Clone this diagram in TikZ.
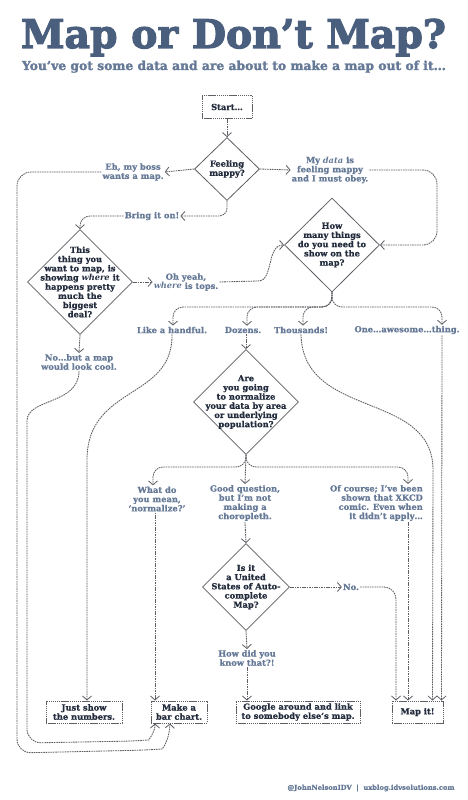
\documentclass[tikz,border=0pt]{standalone}
\usepackage{fontspec}
\setmainfont{DejaVu Serif}[BoldFeatures={FakeBold=0.8}]
\newfontfamily\titlefont{DejaVu Serif}[BoldFeatures={FakeBold=3}]
\newfontfamily\subfont{DejaVu Serif}[BoldFeatures={FakeBold=2}]
\usepackage{graphicx}
\usetikzlibrary{shapes.geometric,arrows.meta}
\definecolor{titleblue}{HTML}{4A5F7E}
\definecolor{ansblue}{HTML}{667A98}
\definecolor{darktext}{HTML}{232C3D}
\definecolor{linegray}{HTML}{5E5E64}
\begin{document}
\begin{tikzpicture}[x=1pt,y=-1pt,
  txt/.style={font=\bfseries\fontsize{8.3}{9.2}\selectfont, align=center, inner sep=1pt},
  ans/.style={txt, text=ansblue},
  qtext/.style={txt, text=darktext},
  dia/.style={diamond, draw=linegray, line width=0.8pt, inner sep=0pt},
  box/.style={draw=linegray, dash pattern=on 1.4pt off 0.7pt, line width=1pt, txt, text=darktext, minimum height=22pt, inner sep=2pt},
  conn/.style={draw=linegray, line width=0.85pt, dash pattern=on 1.6pt off 0.8pt},
  arr/.style={conn, -{Straight Barb[length=4pt,width=9pt,line width=0.8pt]}},
]
\fill[white] (0,0) rectangle (467,800);
\useasboundingbox (0,0) rectangle (467,800);

% titles
\node[anchor=base, text=titleblue, inner sep=0pt] (title) at (233.5,48)
  {\resizebox{425pt}{!}{\titlefont\bfseries Map or Don’t Map?}};
\node[anchor=base, text=ansblue, inner sep=0pt] (subtitle) at (234,70)
  {\resizebox{424pt}{!}{\subfont\bfseries You’ve got some data and are about to make a map out of it…}};

% boxes
\node[box, minimum width=50pt, minimum height=23pt] (start) at (227,107) {Start…};
\node[box, minimum width=76pt] (just) at (84,712) {Just show\\the numbers.};
\node[box, minimum width=56pt] (bar) at (179,712) {Make a\\bar chart.};
\node[box, minimum width=124pt] (google) at (298,712) {Google around and link\\to somebody else’s map.};
\node[box, minimum width=51pt] (map) at (417.5,712) {Map it!};

% diamonds
\node[dia, minimum width=65pt, minimum height=63pt,
  label={[qtext]center:{Feeling\\mappy?}}] (q1) at (227,169) {};
\node[dia, minimum width=105pt, minimum height=105pt,
  label={[qtext]center:{This\\thing you\\want to map, is\\showing \textit{where} it\\happens pretty\\much the\\biggest\\deal?}}] (q2) at (80,282) {};
\node[dia, minimum width=95pt, minimum height=94pt,
  label={[qtext]center:{How\\many things\\do you need to\\show on the\\map?}}] (q3) at (332,245) {};
\node[dia, minimum width=105pt, minimum height=105pt,
  label={[qtext]center:{Are\\you going\\to normalize\\your data by area\\or underlying\\population?}}] (q4) at (246,402) {};
\node[dia, minimum width=87pt, minimum height=87pt,
  label={[qtext]center:{Is it\\a United\\States of Auto-\\complete\\Map?}}] (q5) at (246,587) {};

% answers
\node[ans] (boss) at (133,172) {Eh, my boss\\wants a map.};
\node[ans] (obey) at (330,170) {My \textit{data} is\\feeling mappy\\and I must obey.};
\node[ans] (bring) at (152,216) {Bring it on!};
\node[ans] (tops) at (186,282) {Oh yeah,\\\textit{where} is tops.};
\node[ans] (hand) at (172,330) {Like a handful.};
\node[ans] (dozens) at (243,330) {Dozens.};
\node[ans] (thou) at (301,330) {Thousands!};
\node[ans] (awe) at (407,330) {One…awesome…thing.};
\node[ans] (nobut) at (79,362) {No…but a map\\would look cool.};
\node[ans] (what) at (157,499) {What do\\you mean,\\‘normalize?’};
\node[ans] (good) at (245,503) {Good question,\\but I’m not\\making a\\choropleth.};
\node[ans, anchor=east, align=right] (course) at (424,503) {Of course; I’ve been\\shown that XKCD\\comic. Even when\\it didn’t apply…};
\node[ans] (no) at (351,587) {No.};
\node[ans] (how) at (247,658) {How did you\\know that?!};

\node[font=\bfseries\fontsize{6.7}{7.5}\selectfont, text=ansblue] (credit) at (371,788)
  {@JohnNelsonIDV \ | \ uxblog.idvsolutions.com};

\coordinate (cx) at (408,0);

% connectors
\draw[arr] (start.south) -- (q1.north);
\draw[arr] (q1.west) -- (boss.east);
\draw[arr] (q1.east) -- (obey.west);
\draw[arr, rounded corners=8pt] (q1.south) |- (bring.east);
\draw[arr, rounded corners=10pt] (bring.west) -| (q2.north);
\draw[arr, rounded corners=14pt] (obey.east) -- (437,170) |- (q3.east);
\draw[arr, rounded corners=14pt] (boss.west) -| (17,753) -- (148,750)
  .. controls (162,749) and (169,742) .. ([xshift=-9pt]bar.south);
\draw[arr] (q2.east) -- (tops.west);
\draw[arr] (tops.east) -- (258,281) .. controls (274,281) and (266,245) .. (q3.west);
\draw[arr] (q2.south) -- (nobut.north);
\draw[arr, rounded corners=14pt] (nobut.south) .. controls (79,405) and (27,398) .. (27,435)
  -- (27,743) -- (135,741) .. controls (148,740) and (155,733) .. ([xshift=-24pt]bar.south);
\draw[arr, rounded corners=10pt] (q3.south) -- (332,307) -| ([xshift=1pt]hand.north);
\draw[arr, rounded corners=10pt] (q3.south) -- (332,307) -| ([xshift=4pt]dozens.north);
\draw[arr, rounded corners=10pt] (q3.south) -- (332,307) -| ([xshift=2pt]thou.north);
\draw[arr, rounded corners=10pt] (q3.south) -- (332,307) -| ([xshift=35pt]awe.north);
\draw[arr] (hand.south) .. controls (173,400) and (87,385) .. (87,460) -- ([xshift=3pt]just.north);
\draw[arr] (dozens.south -| q4.north) -- (q4.north);
\draw[arr] (thou.south) .. controls (303,420) and (433,390) .. (433,470) -- ([xshift=15pt]map.north);
\draw[arr] ([xshift=35pt]awe.south) -- ([xshift=24pt]map.north);
\draw[arr, rounded corners=10pt] (q4.south) -- (246,467) -| ([xshift=-4pt]what.north);
\draw[arr] (q4.south) -- (good.north);
\draw[arr, rounded corners=10pt] (q4.south) -- (246,467) -| (course.north -| cx);
\draw[arr] ([xshift=-2pt]what.south) -- ([xshift=-24pt]bar.north);
\draw[arr] (good.south) -- (q5.north);
\draw[arr] (course.south -| cx) -- (map.north -| cx);
\draw[arr] (q5.east) -- (no.west);
\draw[arr, rounded corners=12pt] (no.east) -| ([xshift=-21.5pt]map.north);
\draw[arr] (q5.south) -- (how.north);
\draw[arr] (how.south) -- (how.south |- google.north);
\end{tikzpicture}
\end{document}
